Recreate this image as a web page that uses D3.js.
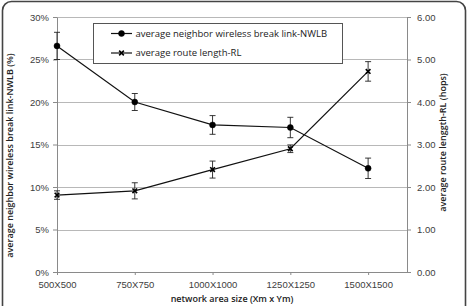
<!DOCTYPE html>
<html>
<head>
<meta charset="utf-8">
<script src="https://cdn.jsdelivr.net/npm/d3@7"></script>
<style>
  body { margin: 0; background: #fff; }
  svg { display: block; font-family: "Open Sans", "Noto Sans", sans-serif; }
</style>
</head>
<body>
<div id="chart"></div>
<script>
// Chart data
const categories = ['500X500', '750X750', '1000X1000', '1250X1250', '1500X1500'];
const nwlbValues = [26.6, 20.0, 17.3, 17.0, 12.2];   // %
const nwlbErrors = [1.6, 1.0, 1.1, 1.2, 1.2];
const rlValues = [1.81, 1.91, 2.41, 2.90, 4.72];      // hops
const rlErrors = [0.1, 0.19, 0.2, 0.09, 0.23];
const leftTicks = [0, 5, 10, 15, 20, 25, 30];
const rightTicks = [0, 1, 2, 3, 4, 5, 6];

const width = 469, height = 306;
const margins = { top: 17, right: 62, bottom: 34, left: 57 };
const plotWidth = width - margins.left - margins.right;   // 350
const plotHeight = height - margins.top - margins.bottom; // 255

const svg = d3.select('#chart').append('svg')
    .attr('width', width)
    .attr('height', height);

// Outer chart frame (rounded, bottom edge cut off by the image)
svg.append('rect')
    .attr('x', 2.5).attr('y', 1.5)
    .attr('width', 463).attr('height', 320)
    .attr('rx', 9)
    .attr('fill', 'none')
    .attr('stroke', '#444')
    .attr('stroke-width', 1.6);

const plotArea = svg.append('g')
    .attr('transform', `translate(${margins.left},${margins.top})`);

// x: category index, first point on the left axis, half a step of space after the last
const xScale = d3.scaleLinear()
    .domain([0, categories.length - 0.5])
    .range([0, plotWidth]);

const yLeft = d3.scaleLinear().domain([0, 30]).range([plotHeight, 0]);
const yRight = d3.scaleLinear().domain([0, 6]).range([plotHeight, 0]);

// Gridlines
plotArea.append('g')
    .selectAll('line')
    .data(leftTicks.filter(d => d > 0))
    .join('line')
    .attr('x1', 0).attr('x2', plotWidth)
    .attr('y1', d => Math.round(yLeft(d)) + 0.5)
    .attr('y2', d => Math.round(yLeft(d)) + 0.5)
    .attr('stroke', '#b8b8b8')
    .attr('stroke-width', 1);

// Axes
const axisColor = '#8a8a8a';
const tickTextColor = '#404040';

const xAxis = plotArea.append('g')
    .attr('transform', `translate(0,${plotHeight})`)
    .call(d3.axisBottom(xScale)
        .tickValues(d3.range(categories.length))
        .tickFormat(i => categories[i])
        .tickSizeInner(3)
        .tickSizeOuter(0)
        .tickPadding(6));

const leftAxis = plotArea.append('g')
    .call(d3.axisLeft(yLeft)
        .tickValues(leftTicks)
        .tickFormat(d => d + '%')
        .tickSizeInner(4)
        .tickSizeOuter(0)
        .tickPadding(4));

const rightAxis = plotArea.append('g')
    .attr('transform', `translate(${plotWidth},0)`)
    .call(d3.axisRight(yRight)
        .tickValues(rightTicks)
        .tickFormat(d => d.toFixed(2))
        .tickSizeInner(4)
        .tickSizeOuter(0)
        .tickPadding(6));

[xAxis, leftAxis, rightAxis].forEach(ax => {
    ax.select('.domain').attr('stroke', axisColor);
    ax.selectAll('.tick line').attr('stroke', axisColor);
    ax.selectAll('.tick text')
        .attr('fill', tickTextColor)
        .style('font-size', '9.5px');
});

// Axis titles
svg.append('text')
    .attr('text-anchor', 'middle')
    .attr('transform', `translate(13,${margins.top + plotHeight / 2 + 11}) rotate(-90)`)
    .style('font-size', '9px')
    .style('font-weight', '600')
    .attr('fill', '#222')
    .text('average neighbor wireless break link-NWLB (%)');

svg.append('text')
    .attr('text-anchor', 'middle')
    .attr('transform', `translate(446,${margins.top + plotHeight / 2 - 2}) rotate(-90)`)
    .style('font-size', '9px')
    .style('font-weight', '600')
    .attr('fill', '#222')
    .text('average route lenggth-RL (hops)');

svg.append('text')
    .attr('text-anchor', 'middle')
    .attr('x', 232)
    .attr('y', 302)
    .style('font-size', '9px')
    .style('font-weight', '600')
    .attr('fill', '#222')
    .text('network area size (Xm x Ym)');

// Series drawing helper
function drawSeries(values, errors, yScale, marker) {
    const g = plotArea.append('g');
    const line = d3.line()
        .x((d, i) => xScale(i))
        .y(d => yScale(d));

    // error bars
    values.forEach((v, i) => {
        const x = xScale(i);
        const y1 = yScale(v + errors[i]);
        const y2 = yScale(v - errors[i]);
        g.append('line')
            .attr('x1', x).attr('x2', x).attr('y1', y1).attr('y2', y2)
            .attr('stroke', '#222').attr('stroke-width', 0.9);
        [y1, y2].forEach(y => {
            g.append('line')
                .attr('x1', x - 3).attr('x2', x + 3).attr('y1', y).attr('y2', y)
                .attr('stroke', '#222').attr('stroke-width', 0.9);
        });
    });

    g.append('path')
        .datum(values)
        .attr('fill', 'none')
        .attr('stroke', '#111')
        .attr('stroke-width', 1.2)
        .attr('d', line);

    g.selectAll('path.marker')
        .data(values)
        .join('path')
        .attr('class', 'marker')
        .attr('transform', (d, i) => `translate(${xScale(i)},${yScale(d)})`)
        .attr('d', marker)
        .attr('fill', '#000')
        .attr('stroke', '#000')
        .attr('stroke-width', 0.5);
    return g;
}

const circleMarker = d3.symbol().type(d3.symbolCircle).size(28)();
const xMarker = d3.symbol().type(d3.symbolX).size(16)();

drawSeries(nwlbValues, nwlbErrors, yLeft, circleMarker);
const rlGroup = drawSeries(rlValues, rlErrors, yRight, xMarker);
rlGroup.selectAll('path.marker').attr('stroke-width', 1.6).attr('fill', 'none');

// Legend
const legend = svg.append('g');
legend.append('rect')
    .attr('x', 93.5).attr('y', 23.5)
    .attr('width', 249).attr('height', 40)
    .attr('fill', '#fff')
    .attr('stroke', '#555')
    .attr('stroke-width', 1);

const legendItems = [
    { label: 'average neighbor wireless break link-NWLB', marker: circleMarker, sw: 0.5, fill: '#000' },
    { label: 'average route length-RL', marker: xMarker, sw: 1.6, fill: 'none' }
];
legendItems.forEach((item, i) => {
    const y = 33.5 + i * 19.5;
    legend.append('line')
        .attr('x1', 111).attr('x2', 132).attr('y1', y).attr('y2', y)
        .attr('stroke', '#111').attr('stroke-width', 1.2);
    legend.append('path')
        .attr('transform', `translate(121.5,${y})`)
        .attr('d', item.marker)
        .attr('fill', item.fill)
        .attr('stroke', '#000')
        .attr('stroke-width', item.sw);
    legend.append('text')
        .attr('x', 135.5)
        .attr('y', y + 3.3)
        .style('font-size', '9.5px')
        .attr('fill', '#222')
        .text(item.label);
});
</script>
</body>
</html>
